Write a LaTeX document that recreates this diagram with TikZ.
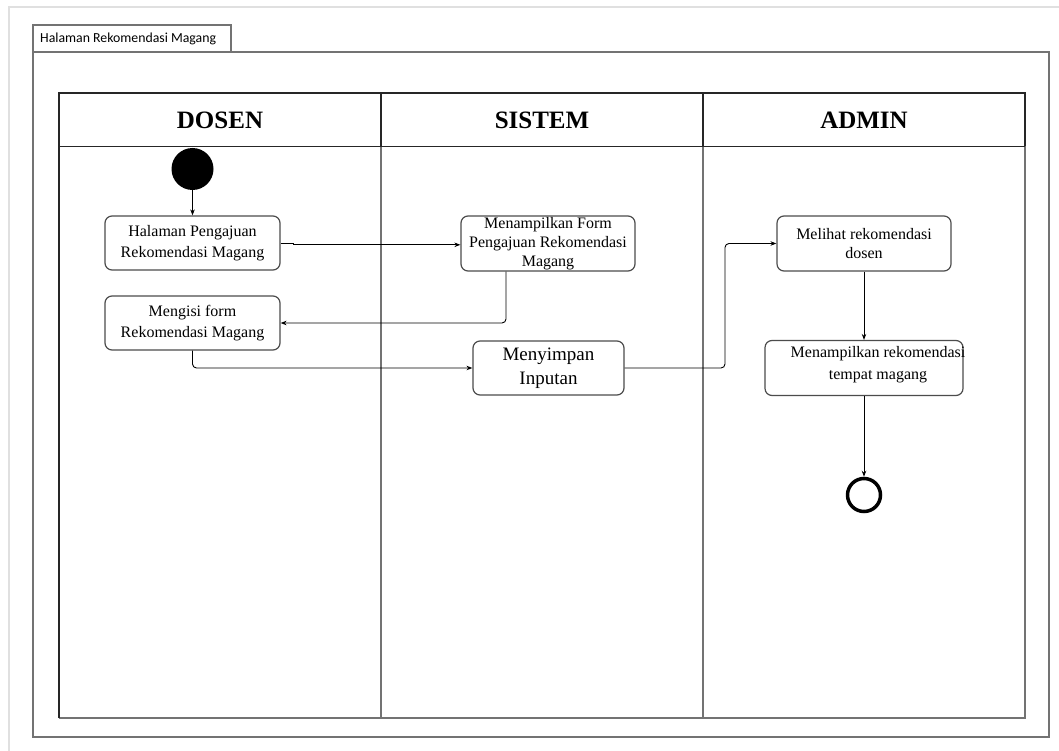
\documentclass[tikz,border=0pt]{standalone}
\usepackage{fontspec}
\setmainfont{Liberation Serif}
\newfontfamily\tabfont{Carlito}
\usetikzlibrary{arrows.meta,calc}
\begin{document}
\begin{tikzpicture}[x=1pt,y=-1pt,
  framecol/.style={draw=black!55,line width=1.3pt},
  lanetop/.style={draw=black!85,line width=1.2pt},
  lanelow/.style={draw=black!55,line width=1.3pt},
  actbox/.style={draw=black!70,line width=1.2pt,rounded corners=7pt,inner sep=0pt,
     align=center,font=\fontsize{16}{21}\selectfont},
  lanehead/.style={font=\fontsize{25}{30}\selectfont\bfseries,inner sep=0pt},
  conn/.style={draw=black,line width=0.9pt,rounded corners=4pt,
     -{Stealth[length=6pt,width=4.5pt]}}
]
\useasboundingbox (0,0) rectangle (1059,751);
\fill[white] (0,0) rectangle (1059,751);
% faint page border
\draw[black!12,line width=1.5pt] (9,751) -- (9,7) -- (1059,7);
% frame with tab
\draw[framecol] (33,25) rectangle (231,52);
\node[font=\tabfont\fontsize{13.8}{16}\selectfont,anchor=west,inner sep=0pt] (tab) at (40,38.5) {Halaman Rekomendasi Magang};
\draw[framecol] (33,52) rectangle (1049,737);
% swimlanes
\draw[lanelow] (381,146.5) -- (381,718);
\draw[lanelow] (703,146.5) -- (703,718);
\draw[lanelow] (1025,146.5) -- (1025,718) -- (59,718);
\draw[lanetop] (59,718) -- (59,93) -- (1025,93) -- (1025,146.5);
\draw[lanetop] (59,146.5) -- (1025,146.5);
\draw[lanetop] (381,93) -- (381,146.5);
\draw[lanetop] (703,93) -- (703,146.5);
\node[lanehead] (hd) at (220,120) {DOSEN};
\node[lanehead] (hs) at (542,120) {SISTEM};
\node[lanehead] (ha) at (864,120) {ADMIN};
% start / end
\node[circle,fill=black,minimum size=42pt,inner sep=0pt] (start) at (192.5,169) {};
\node[circle,draw=black,line width=3.5pt,minimum size=33pt,inner sep=0pt] (end) at (864,495) {};
% activities
\node[actbox,minimum width=175pt,minimum height=54pt] (n1) at (192.5,243) {Halaman Pengajuan\\Rekomendasi Magang};
\node[actbox,minimum width=175pt,minimum height=54pt] (n2) at (192.5,323) {Mengisi form\\Rekomendasi Magang};
\node[actbox,minimum width=174pt,minimum height=55pt,font=\fontsize{16}{19}\selectfont] (form) at (548,243.5) {Menampilkan Form\\Pengajuan Rekomendasi\\Magang};
\node[actbox,minimum width=151pt,minimum height=54pt,font=\fontsize{19}{23.5}\selectfont] (save) at (548.5,368) {Menyimpan\\Inputan};
\node[actbox,minimum width=174pt,minimum height=55pt,font=\fontsize{16}{19.5}\selectfont] (lihat) at (864,243.5) {Melihat rekomendasi\\dosen};
\node[actbox,minimum width=198pt,minimum height=55pt] (rek) at (864,368) {};
\node[align=center,inner sep=0pt,font=\fontsize{16}{22}\selectfont] (rektext) at (878,365) {Menampilkan rekomendasi\\tempat magang};
% connectors
\coordinate (j) at (0,244.8);
\coordinate (k) at (725,300);
\draw[conn] (start) -- (n1);
\draw[conn,rounded corners=0pt] (n1.east) -- ++(13,0) -- ++(0,1.8) -- (form.west |- j);
\draw[conn] ([xshift=-42pt]form.south) |- (n2.east);
\draw[conn] (n2.south) |- (save.west);
\draw[conn] (save.east) -- (save.east -| k) |- (lihat.west);
\draw[conn] (lihat) -- (rek);
\draw[conn] (rek) -- (end);
\end{tikzpicture}
\end{document}
